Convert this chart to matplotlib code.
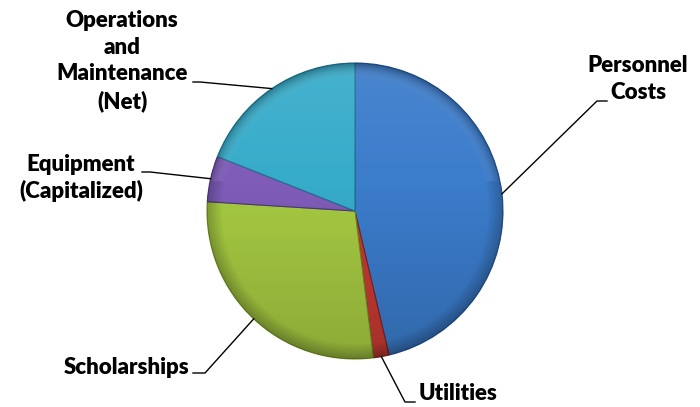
import matplotlib.pyplot as plt
import numpy as np
from matplotlib.patches import Circle

# Budget shares (percent), clockwise from 12 o'clock
categories = ['Personnel\nCosts', 'Utilities', 'Scholarships',
              'Equipment\n(Capitalized)', 'Operations\nand\nMaintenance\n(Net)']
shares = [46.3, 1.7, 28.0, 5.0, 19.0]
colors = ['#3b7ccb', '#c73a33', '#a6ca42', '#7e5cb8', '#36acca']
edges = ['#22528f', '#7f2320', '#6f8c25', '#4e3780', '#1f7491']

W, H = 700, 407
plt.rcParams['font.family'] = ['Lato', 'DejaVu Sans']

fig = plt.figure(figsize=(W / 100, H / 100), dpi=100)
ax = fig.add_axes([0, 0, 1, 1])

cx, cy, r = 355, H - 211, 148
wedges, _ = ax.pie(shares, colors=colors, startangle=90, counterclock=False,
                   center=(cx, cy), radius=r, frame=True,
                   wedgeprops=dict(linewidth=0.8))
for w, ec in zip(wedges, edges):
    w.set_edgecolor(ec)

# soft shading: slightly light at top, darker toward the bottom and rim
yy, xx = np.mgrid[0:1:300j, 0:1:300j]
shade = np.zeros((300, 300, 4))
t = yy  # 0 top .. 1 bottom (image origin upper)
shade[..., :3] = np.where(t[..., None] < 0.4, 1.0, 0.0)
shade[..., 3] = np.where(t < 0.4, 0.08 * (0.4 - t) / 0.4, 0.16 * (t - 0.4) / 0.6)
rr = np.hypot(xx - 0.5, yy - 0.5) / 0.5
rim = np.clip((rr - 0.9) / 0.1, 0, 1)
shade[..., :3] = shade[..., :3] * (1 - rim[..., None])
shade[..., 3] = np.clip(shade[..., 3] + 0.22 * rim, 0, 1)
im = ax.imshow(shade, extent=(cx - r, cx + r, cy - r, cy + r), zorder=3)
im.set_clip_path(Circle((cx, cy), r, transform=ax.transData))

# leader lines start at the wedge's mid-angle on the rim
def rim_point(w):
    a = np.deg2rad((w.theta1 + w.theta2) / 2)
    return cx + r * np.cos(a), cy + r * np.sin(a)

# elbow, end of leader, text anchor (pixels from top-left), alignment
label_pos = [
    ((597, 101), (607, 101), (638, 79), 'center'),
    ((405, 402), (415, 402), (419, 393), 'left'),
    ((205, 373), (193, 373), (189, 367), 'right'),
    ((150, 172), (142, 172), (81, 178), 'center'),
    ((200, 82), (193, 82), (122, 61), 'center'),
]
for w, name, (elbow, end, txt, ha) in zip(wedges, categories, label_pos):
    x0, y0 = rim_point(w)
    ax.plot([x0, elbow[0], end[0]], [y0, H - elbow[1], H - end[1]],
            color='black', lw=1, zorder=4)
    ax.text(txt[0], H - txt[1], name, ha=ha, va='center', multialignment='center',
            fontsize=16, fontweight='heavy', linespacing=1.32, zorder=5)

ax.set_xlim(0, W)
ax.set_ylim(0, H)
ax.set_aspect('equal')
ax.axis('off')

fig.savefig('out.png', dpi=100)
